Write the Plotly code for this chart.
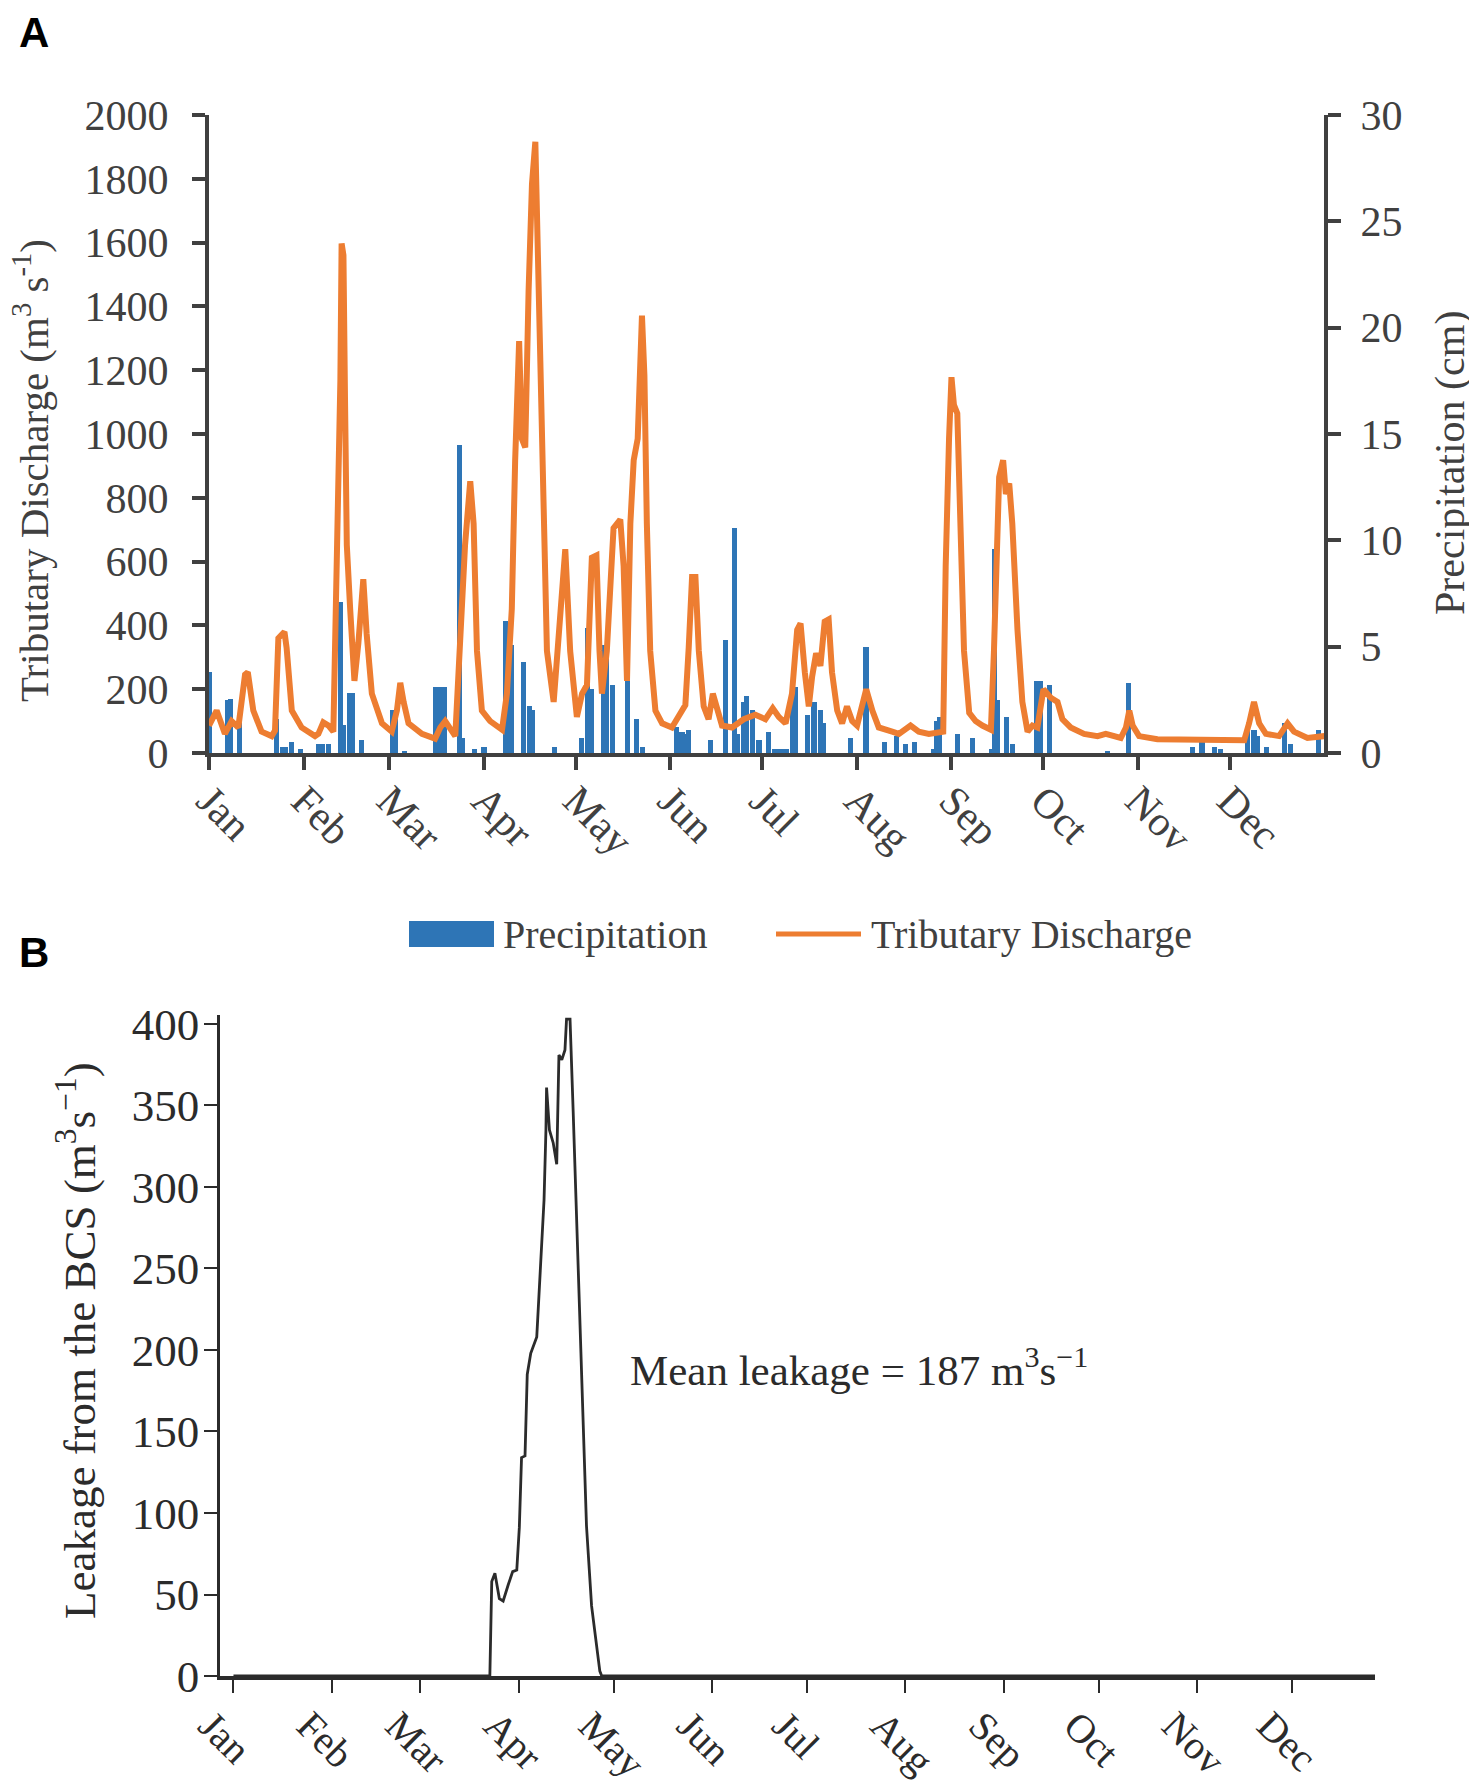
import pandas as pd
import plotly.graph_objects as go

# ---- data (day 0 = 1 Jan) ----
discharge_day = [
    0, 2.5, 5.2, 7.4, 9.6, 11.8, 12.7, 14.5, 17.2, 20.5, 21.6, 22.7, 24.7, 25.4, 27.1,
    30.3, 34.7, 35.8, 37.4, 39.1, 40.7, 41.8, 42.6, 43.0, 43.4, 44.0, 44.5, 45.1, 46.2,
    47.6, 48.9, 50.5, 51.6, 53.3, 56.6, 59.8, 61.5, 62.6, 63.7, 65.3, 69.7, 74.0, 75.7,
    77.3, 80.6, 82.2, 83.8, 85.5, 86.6, 87.7, 89.3, 92.0, 95.9, 97.5, 99.1, 100.2, 101.5,
    102.4, 103.5, 104.6, 105.7, 106.8, 107.5, 108.4, 109.5, 110.6, 112.8, 114.4, 116.6,
    118.2, 120.4, 122.1, 123.7, 125.3, 126.8, 127.8, 128.6, 130.2, 132.4, 134.6, 135.7,
    136.8, 137.9, 139.0, 140.3, 141.7, 142.5, 143.3, 144.4, 146.1, 148.3, 151.5, 154.8,
    155.9, 157.0, 158.1, 159.2, 160.3, 161.9, 163.5, 164.9, 166.3, 167.9, 171.2, 175.0,
    178.8, 182.1, 184.5, 186.5, 188.7, 190.8, 192.5, 193.6, 195.0, 196.3, 197.4, 198.7,
    200.1, 201.5, 202.8, 203.9, 205.6, 207.2, 208.8, 210.5, 212.1, 213.8, 215.1, 217.1,
    219.2, 223.6, 225.8, 229.6, 232.3, 235.6, 238.4, 240.3, 241.1, 241.7, 242.2, 243.0,
    243.8, 244.9, 245.8, 247.1, 248.8, 250.9, 253.1, 255.9, 256.9, 258.0, 258.6, 259.9,
    260.8, 261.9, 262.9, 264.6, 266.2, 267.9, 269.5, 271.1, 273.1, 275.5, 277.7, 279.3,
    282.0, 286.4, 290.8, 293.5, 298.4, 300.1, 301.2, 302.3, 304.4, 310.4, 322.4, 338.8,
    340.4, 342.0, 343.7, 345.9, 350.2, 353.0, 355.1, 359.5, 365.0,
]
discharge = [
    86, 133, 60, 100, 80, 246, 253, 133, 67, 53, 70, 360, 380, 330, 133,
    80, 53, 60, 96, 86, 67, 585, 918, 1171, 1597, 1560, 1118, 652, 452,
    226, 346, 545, 373, 186, 93, 67, 133, 220, 160, 93, 60, 45, 80,
    100, 53, 400, 652, 852, 719, 320, 133, 100, 73, 186, 452, 918, 1291,
    985, 958, 1450, 1783, 1916, 1650, 1184, 719, 320, 160, 346, 639,
    320, 113, 186, 213, 612, 619, 320, 186, 320, 705, 732, 585,
    226, 719, 918, 985, 1371, 1184, 719, 320, 133, 93, 80, 133,
    150, 330, 552, 552, 320, 146, 106, 186, 133, 86, 80, 106,
    120, 106, 140, 113, 93, 186, 386, 406, 253, 146, 240, 313,
    273, 412, 419, 253, 133, 93, 146, 100, 86, 160, 200, 133,
    80, 67, 60, 86, 67, 60, 67, 67, 585, 892, 985, 1178,
    1091, 1065, 719, 320, 126, 100, 86, 73, 320, 719, 865, 918,
    812, 845, 719, 386, 160, 67, 86, 80, 200, 173, 160, 106,
    80, 60, 53, 60, 47, 80, 133, 86, 53, 43, 40, 40,
    93, 160, 93, 60, 53, 93, 67, 47, 53,
]

precip_day = [
    0, 6, 7, 10, 22, 24, 25, 27, 30, 36, 37, 39, 43, 44, 46, 47, 50, 60, 61, 64,
    74, 75, 76, 77, 82, 83, 87, 90, 97, 98, 99, 103, 105, 106, 113, 122, 124, 125,
    129, 130, 132, 137, 140, 142, 153, 154, 155, 156, 157, 164, 169, 172, 173, 175,
    176, 178, 180, 183, 185, 186, 187, 188, 189, 191, 192, 196, 198, 200, 201, 210,
    215, 221, 225, 228, 231, 237, 238, 239, 245, 250, 256, 257, 258, 261, 263, 271,
    272, 275, 294, 301, 322, 325, 329, 331, 340, 342, 343, 346, 352, 354, 363,
]
precip = [
    3.8, 2.5, 2.55, 1.5, 1.6, 0.3, 0.3, 0.5, 0.2, 0.4, 0.4, 0.4, 7.1, 1.3, 2.8, 2.8, 0.6, 2.0, 2.0, 0.1,
    3.1, 3.1, 3.1, 3.1, 14.5, 0.7, 0.2, 0.3, 6.2, 5.2, 5.1, 4.3, 2.2, 2.0, 0.3, 0.7, 5.9, 3.0,
    5.1, 4.8, 3.2, 5.0, 1.6, 0.3, 1.2, 1.0, 1.0, 0.9, 1.1, 0.6, 5.3, 10.6, 0.9, 2.4,
    2.7, 2.0, 0.6, 1.0, 0.2, 0.2, 0.2, 0.2, 0.2, 3.1, 3.1, 1.8, 2.4, 2.0, 1.4, 0.7,
    5.0, 0.5, 0.8, 0.4, 0.5, 0.2, 1.5, 1.7, 0.9, 0.7, 0.2, 9.6, 2.5, 1.7, 0.4, 3.4,
    3.4, 3.2, 0.1, 3.3, 0.3, 0.5, 0.3, 0.2, 1.2, 1.1, 0.8, 0.3, 1.4, 0.4, 1.1,
]

leak_day = [
    0, 80.9, 81.5, 82.5, 83.9, 85.1, 86.7, 88.1, 89.4, 90.2, 90.9, 92.0, 92.7, 93.8,
    95.7, 96.5, 97.2, 98.0, 98.6, 98.8, 99.7, 100.9, 102.0, 102.7, 103.6, 104.6, 105.1,
    106.2, 107.2, 108.3, 109.3, 110.4, 111.4, 113.0, 114.6, 115.6, 116.2, 364,
]
leakage = [
    0, 0, 58, 63, 47.5, 46, 56, 64, 65, 91, 134, 135, 185, 198,
    208, 238, 263, 292, 335, 361, 335, 327, 314, 381, 378, 384, 403,
    403, 346, 279, 212, 145, 92, 43, 16, 3, 0, 0,
]

BASE = pd.Timestamp("2019-01-01")
W, H = 1477, 1787
OFF = 8  # page body margin, compensated in the pixel helpers
BLUE = "#2e75b6"
ORANGE = "#ed7d31"
GREY_A = "#404040"
GREY_B = "#2b2b2b"
SERIF = "Liberation Serif, Times New Roman, serif"


def to_dates(days):
    return [BASE + pd.Timedelta(days=d) for d in days]


def px(x):
    return (x - OFF) / W


def py(y):
    return 1 - (y - OFF) / H


fig = go.Figure()

# Panel A: bars on the right axis (y), discharge on the left axis (y2, drawn on top)
fig.add_trace(go.Bar(
    x=to_dates(precip_day), y=precip, name="Precipitation",
    marker=dict(color=BLUE, line=dict(width=0)),
    width=1.7 * 86400000, xaxis="x", yaxis="y", showlegend=False,
))
fig.add_trace(go.Scatter(
    x=to_dates(discharge_day), y=discharge, name="Tributary Discharge",
    mode="lines", line=dict(color=ORANGE, width=6),
    xaxis="x", yaxis="y2", showlegend=False,
))

# Panel B
fig.add_trace(go.Scatter(
    x=to_dates(leak_day), y=leakage, mode="lines", name="Leakage",
    line=dict(color=GREY_B, width=2.8), xaxis="x2", yaxis="y3", showlegend=False,
))

axis_a = dict(
    showline=True, linecolor=GREY_A, linewidth=4, ticks="outside", ticklen=13,
    tickwidth=4, tickcolor=GREY_A, showgrid=False, zeroline=False, automargin=False,
    tickfont=dict(family=SERIF, size=42, color=GREY_A),
)
axis_b = dict(
    showline=True, linecolor=GREY_B, linewidth=2.5, ticks="outside", ticklen=13,
    tickwidth=2, tickcolor=GREY_B, showgrid=False, zeroline=False, automargin=False,
    tickfont=dict(family=SERIF, size=45, color=GREY_B),
)

fig.update_layout(
    width=W, height=H,
    paper_bgcolor="white", plot_bgcolor="white",
    margin=dict(l=0, r=0, t=0, b=0, pad=0),
    bargap=0,
    xaxis=dict(
        axis_a, domain=[px(209), px(1324)], anchor="y", type="date",
        range=["2019-01-01", "2019-12-31 22:00"], dtick="M1", tick0="2019-01-01",
        tickformat="%b", tickangle=45, ticklabelstandoff=-11,
    ),
    yaxis=dict(
        axis_a, domain=[py(753), py(115)], anchor="x", side="right",
        range=[0, 30], dtick=5, ticklabelstandoff=11,
    ),
    yaxis2=dict(
        axis_a, overlaying="y", anchor="x", side="left",
        range=[0, 2000], dtick=200, ticklabelstandoff=15,
    ),
    xaxis2=dict(
        axis_b, domain=[px(220), px(1375)], anchor="y3", type="date",
        range=["2018-12-27 18:00", "2019-12-27 05:00"], dtick="M1", tick0="2019-01-01",
        tickformat="%b", tickangle=45, ticklabelstandoff=-7, ticklabelshift=-23,
        linewidth=4, tickfont=dict(family=SERIF, size=40, color=GREY_B),
    ),
    yaxis3=dict(
        axis_b, domain=[py(1676), py(1015)], anchor="x2",
        range=[0, 405.5], dtick=50, ticklabelstandoff=-4,
    ),
)

annotations = [
    # panel letters
    dict(text="<b>A</b>", x=px(18), y=py(OFF), xanchor="left", yanchor="top", borderpad=0,
         font=dict(family="Liberation Sans, Arial", size=42, color="black")),
    dict(text="<b>B</b>", x=px(18), y=py(928), xanchor="left", yanchor="top", borderpad=0,
         font=dict(family="Liberation Sans, Arial", size=42, color="black")),
    # panel A axis titles
    dict(text="Tributary Discharge (m<sup>3</sup> s<sup>-1</sup>)", textangle=-90,
         x=px(31), y=py(471), xanchor="center", yanchor="middle",
         font=dict(family=SERIF, size=41, color=GREY_A)),
    dict(text="Precipitation (cm)", textangle=-90,
         x=px(1450), y=py(463), xanchor="center", yanchor="middle",
         font=dict(family=SERIF, size=42, color=GREY_A)),
    # legend labels
    dict(text="Precipitation", x=px(501), y=py(934), xanchor="left", yanchor="middle",
         font=dict(family=SERIF, size=40, color=GREY_A)),
    dict(text="Tributary Discharge", x=px(869), y=py(934), xanchor="left", yanchor="middle",
         font=dict(family=SERIF, size=40, color=GREY_A)),
    # panel B axis title and note
    dict(text="Leakage from the BCS (m<sup>3</sup>s<sup>\u22121</sup>)", textangle=-90,
         x=px(76), y=py(1341), xanchor="center", yanchor="middle",
         font=dict(family=SERIF, size=45, color=GREY_B)),
    dict(text="Mean leakage = 187 m<sup>3</sup>s<sup>\u22121</sup>", x=px(628), y=py(1367),
         xanchor="left", yanchor="middle",
         font=dict(family=SERIF, size=43, color=GREY_B)),
]
for a in annotations:
    a.update(xref="paper", yref="paper", showarrow=False)
fig.update_layout(annotations=annotations)

# legend keys drawn as shapes
fig.add_shape(type="rect", xref="paper", yref="paper",
              x0=px(409), x1=px(494), y0=py(947), y1=py(921),
              fillcolor=BLUE, line=dict(width=0))
fig.add_shape(type="line", xref="paper", yref="paper",
              x0=px(776), x1=px(861), y0=py(934), y1=py(934),
              line=dict(color=ORANGE, width=5))

fig.write_html("out.html")
